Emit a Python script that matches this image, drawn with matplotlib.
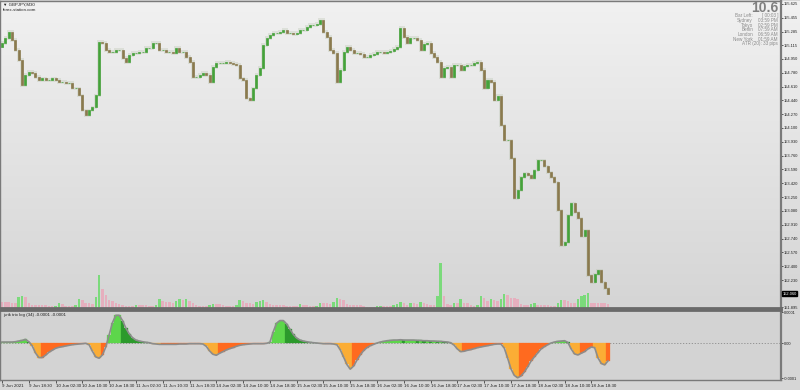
import numpy as np
import matplotlib.pyplot as plt
from matplotlib.colors import LinearSegmentedColormap

plt.rcParams['font.family'] = ['Liberation Sans', 'DejaVu Sans']

# GBPJPY, one value per hour
first_open = 155.10
closes = [
    155.144, 155.206, 155.280, 155.181, 155.058, 154.935, 154.627, 154.750, 154.787, 154.775,
    154.726, 154.689, 154.713, 154.689, 154.689, 154.713, 154.689, 154.664, 154.664, 154.652,
    154.652, 154.590, 154.590, 154.504, 154.319, 154.258, 154.319, 154.356, 154.504, 155.157,
    155.144, 155.058, 155.034, 155.034, 155.058, 155.058, 154.960, 154.910, 154.997, 155.021,
    155.021, 155.034, 155.034, 155.083, 155.083, 155.144, 155.144, 155.058, 155.058, 155.034,
    155.034, 155.021, 155.083, 155.034, 155.034, 154.972, 154.910, 154.726, 154.726, 154.750,
    154.775, 154.750, 154.664, 154.849, 154.898, 154.898, 154.898, 154.910, 154.898, 154.886,
    154.874, 154.713, 154.689, 154.467, 154.442, 154.590, 154.750, 154.837, 155.120, 155.206,
    155.243, 155.268, 155.268, 155.280, 155.305, 155.268, 155.268, 155.255, 155.268, 155.305,
    155.305, 155.342, 155.366, 155.366, 155.378, 155.428, 155.280, 155.218, 155.058, 155.021,
    154.664, 154.812, 155.034, 155.095, 155.058, 155.021, 155.021, 155.009, 154.972, 154.972,
    154.997, 155.009, 155.034, 155.034, 155.021, 155.034, 155.046, 155.071, 155.095, 155.329,
    155.218, 155.144, 155.206, 155.206, 155.181, 155.058, 155.132, 155.144, 155.021, 154.972,
    154.910, 154.726, 154.837, 154.849, 154.726, 154.874, 154.874, 154.812, 154.861, 154.874,
    154.874, 154.898, 154.910, 154.812, 154.590, 154.689, 154.664, 154.442, 154.492, 154.135,
    153.950, 153.950, 153.728, 153.236, 153.334, 153.494, 153.544, 153.519, 153.482, 153.580,
    153.704, 153.704, 153.630, 153.556, 153.494, 153.433, 153.088, 152.657, 152.694, 153.026,
    153.174, 153.063, 152.989, 152.767, 152.842, 152.287, 152.200, 152.299, 152.348, 152.200,
    152.127, 152.060,
]

volumes = [
    600, 600, 550, 500, 500, 1100, 1200, 1100, 500, 300,
    300, 300, 300, 250, 150, 150, 200, 500, 400, 200,
    200, 200, 250, 900, 800, 500, 500, 400, 1100, 3300,
    1900, 1300, 800, 700, 500, 400, 300, 200, 200, 200,
    300, 300, 300, 250, 200, 200, 300, 900, 700, 600,
    600, 500, 700, 900, 800, 900, 700, 500, 300, 200,
    200, 200, 300, 400, 400, 350, 250, 200, 200, 200,
    300, 800, 700, 500, 500, 400, 600, 700, 800, 600,
    400, 300, 300, 300, 250, 200, 200, 200, 200, 400,
    300, 300, 200, 150, 200, 500, 500, 500, 400, 600,
    1000, 900, 800, 400, 300, 300, 300, 250, 150, 100,
    100, 100, 150, 200, 200, 200, 200, 250, 400, 600,
    500, 300, 500, 500, 400, 600, 500, 400, 300, 300,
    1200, 4500, 1200, 400, 300, 500, 500, 900, 500, 500,
    300, 150, 300, 1200, 1000, 700, 900, 800, 700, 900,
    1400, 1300, 1000, 1000, 900, 400, 300, 300, 400, 500,
    300, 300, 300, 250, 200, 200, 500, 800, 800, 700,
    500, 500, 900, 1200, 1300, 1500, 500, 500, 500, 500,
    500, 400,
]

# jurik trix log (34), in units of 1e-4
trix_e4 = [
    0.03, 0.03, 0.03, 0.03, 0.04, 0.06, 0.08, 0.11, 0.04, -0.08,
    -0.30, -0.44, -0.44, -0.37, -0.28, -0.22, -0.16, -0.13, -0.11, -0.09,
    -0.07, -0.05, -0.04, -0.03, -0.02, -0.01, -0.05, -0.25, -0.42, -0.46,
    -0.36, -0.12, 0.25, 0.62, 0.84, 0.84, 0.68, 0.45, 0.28, 0.16,
    0.09, 0.06, 0.04, 0.02, 0.01, -0.02, -0.03, -0.04, -0.04, -0.04,
    -0.04, -0.04, -0.04, -0.03, -0.03, -0.03, -0.02, -0.02, -0.02, -0.02,
    -0.03, -0.10, -0.24, -0.34, -0.37, -0.31, -0.26, -0.21, -0.17, -0.14,
    -0.10, -0.07, -0.05, -0.04, -0.03, -0.02, -0.02, -0.02, -0.02, -0.01,
    0.02, 0.34, 0.60, 0.68, 0.68, 0.58, 0.42, 0.26, 0.15, 0.09,
    0.06, 0.04, 0.02, 0.01, 0.00, -0.01, -0.02, -0.02, -0.02, -0.03,
    -0.05, -0.20, -0.42, -0.65, -0.79, -0.70, -0.52, -0.36, -0.23, -0.14,
    -0.08, -0.04, 0.00, 0.03, 0.05, 0.07, 0.08, 0.09, 0.09, 0.10,
    0.09, 0.09, 0.09, 0.09, 0.08, 0.08, 0.07, 0.07, 0.06, 0.06,
    0.05, 0.05, 0.04, 0.03, 0.01, -0.06, -0.18, -0.26, -0.25, -0.22,
    -0.20, -0.17, -0.14, -0.12, -0.10, -0.08, -0.06, -0.04, -0.03, -0.03,
    -0.15, -0.45, -0.78, -0.98, -1.05, -1.00, -0.88, -0.72, -0.55, -0.42,
    -0.30, -0.18, -0.11, -0.05, 0.00, 0.03, 0.05, 0.06, 0.07, 0.02,
    -0.18, -0.33, -0.36, -0.31, -0.26, -0.18, -0.12, -0.14, -0.45, -0.62,
    -0.66, -0.54,
]

price_tick_labels = ["155.625", "155.455", "155.285", "155.115", "154.950", "154.780",
                     "154.610", "154.440", "154.270", "154.100", "153.930", "153.760",
                     "153.590", "153.420", "153.250", "153.080", "152.910", "152.740",
                     "152.570", "152.400", "152.230", "151.895"]
time_labels = ["9 Jun 2021", "9 Jun 18:30", "10 Jun 02:30", "10 Jun 10:30", "10 Jun 18:30",
               "11 Jun 02:30", "11 Jun 10:30", "11 Jun 18:30", "14 Jun 02:30", "14 Jun 10:30",
               "14 Jun 18:30", "15 Jun 02:30", "15 Jun 10:30", "15 Jun 18:30", "16 Jun 02:30",
               "16 Jun 10:30", "16 Jun 18:30", "17 Jun 02:30", "17 Jun 10:30", "17 Jun 18:30",
               "18 Jun 02:30", "18 Jun 10:30", "18 Jun 18:30"]
info_names = ["Bar Left:", "Sydney", "Tokyo", "Berlin", "London", "New York"]
info_values = ["[ 00:03 ]", "03:59 PM", "02:59 PM", "07:59 AM", "06:59 AM", "01:59 AM"]

closes = np.array(closes)
opens = np.r_[first_open, closes[:-1]]
x = np.arange(len(closes))
trix = np.array(trix_e4) * 1e-4

axis_grey = "#7a7a7a"
fs = 2.85
right = 0.976
fig = plt.figure(figsize=(8, 3.9), dpi=100, facecolor="#d6d6d6")

# background gradient of the price window
bg = fig.add_axes([0, 0.2103, 1, 0.7872], zorder=0)
grad = np.linspace(0, 1, 256).reshape(-1, 1)
cmap = LinearSegmentedColormap.from_list("mt4bg", ["#f1f1f1", "#d5d5d5"])
bg.imshow(grad, aspect="auto", cmap=cmap, extent=[0, 1, 0, 1])
bg.axis("off")

xlim = (-0.6, 232.6)

# volumes
vax = fig.add_axes([0, 0.2103, right, 0.7872], zorder=1)
vcols = ["#5ddc5d" if i > 0 and volumes[i] > volumes[i - 1] else "#eda3b7" for i in range(len(volumes))]
vax.bar(x, volumes, width=0.75, color=vcols, alpha=0.75, linewidth=0)
vax.set_ylim(0, 30700)
vax.set_xlim(*xlim)
vax.axis("off")

# price candles
ax = fig.add_axes([0, 0.2103, right, 0.7872], zorder=2)
ax.patch.set_visible(False)
up = closes >= opens
ccol = np.where(up, "#45a23a", "#8a7a4e")
ax.bar(x, np.abs(closes - opens) + 0.04, bottom=np.minimum(opens, closes) - 0.02, width=1.0,
       color="#a9b79b", alpha=0.25, linewidth=0, zorder=1)
ax.bar(x, np.abs(closes - opens), bottom=np.minimum(opens, closes), width=0.6,
       color=ccol, edgecolor=ccol, linewidth=0.5, zorder=2)
ax.set_xlim(*xlim)
ax.set_ylim(151.886, 155.662)
ax.yaxis.tick_right()
ax.set_yticks([float(t) for t in price_tick_labels])
ax.set_yticklabels(price_tick_labels, fontsize=fs)
ax.tick_params(axis="y", length=1.3, width=0.5, pad=0.6, colors="#202020")
ax.set_xticks([])
for s in ax.spines.values():
    s.set_color(axis_grey)
    s.set_linewidth(1.0)
ax.spines["right"].set_linewidth(1.6)
ax.spines["bottom"].set_linewidth(2.0)
ax.spines["bottom"].set_color("#6a6a6a")

ax.annotate("%.3f" % closes[-1], xy=(1.0, closes[-1]), xycoords=("axes fraction", "data"),
            xytext=(1.4, 0), textcoords="offset points", fontsize=fs, color="white",
            va="center", ha="left",
            bbox=dict(boxstyle="square,pad=0.12", fc="black", ec="black"))

ax.text(0.004, 0.994, "\u25bc GBPJPY,M30", transform=ax.transAxes, fontsize=3.2,
        va="top", ha="left", color="#202020")
ax.text(0.004, 0.976, "forex-station.com", transform=ax.transAxes, fontsize=3.2,
        va="top", ha="left", color="#202020")

# info block top right
fig.text(778 / 800, 1 - 7.5 / 390, "10.6", fontsize=10, fontweight="bold", color="#808080",
         ha="right", va="center")
for i, (n, v) in enumerate(zip(info_names, info_values)):
    yy = 1 - (15.7 + 4.7 * i) / 390
    fig.text(753 / 800, yy, n, fontsize=3.3, color="#8a8a8a", ha="right", va="center")
    fig.text(778 / 800, yy, v, fontsize=3.3, color="#8a8a8a", ha="right", va="center")
fig.text(778 / 800, 1 - 43.8 / 390, "ATR (20): 33 pips", fontsize=3.3, color="#8a8a8a",
         ha="right", va="center")

# indicator window
ax2 = fig.add_axes([0, 0.0256, right, 0.1795], facecolor="#d3d3d3")
dv = np.diff(np.r_[0, trix])
hcol = []
for v, d in zip(trix, dv):
    if v >= 0:
        hcol.append("#5dd64b" if d >= 0 else "#2c9a2c")
    else:
        hcol.append("#fbad35" if d < 0 else "#ff6a1f")
ax2.bar(x, trix, width=1.0, color=hcol, edgecolor=hcol, linewidth=0.2)
ax2.plot(x, trix, color="#8c8c8c", lw=1.2)
ax2.axhline(0, color="#8a8a8a", lw=0.6, ls=(0, (1.5, 2)), zorder=0)
ax2.set_xlim(*xlim)
ax2.set_ylim(-1.12e-4, 1.0e-4)
ax2.yaxis.tick_right()
ax2.set_yticks([0.93e-4, 0, -1.06e-4])
ax2.set_yticklabels(["0.0001", "0.00", "-0.0001"], fontsize=fs)
ax2.tick_params(axis="y", length=1.3, width=0.5, pad=0.6, colors="#202020")
ax2.set_xticks(np.arange(len(time_labels)) * 8)
ax2.set_xticklabels(time_labels, fontsize=3.2, ha="left")
ax2.tick_params(axis="x", length=2, width=0.5, pad=1.2, colors="#202020")
for s in ax2.spines.values():
    s.set_color(axis_grey)
    s.set_linewidth(1.0)
ax2.spines["right"].set_linewidth(1.6)
ax2.spines["top"].set_linewidth(2.0)
ax2.spines["top"].set_color("#6a6a6a")
ax2.text(0.004, 0.96, "jurik trix log (34) -0.0001 -0.0001", transform=ax2.transAxes,
         fontsize=3.2, va="top", ha="left", color="#202020")

fig.savefig("out.png", dpi=100, facecolor=fig.get_facecolor())
